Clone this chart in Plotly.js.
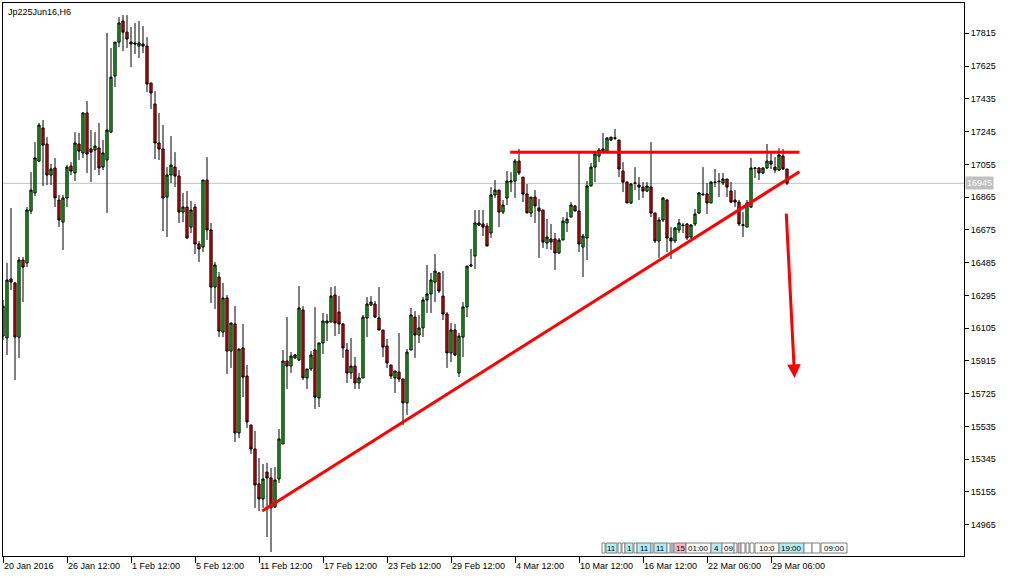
<!DOCTYPE html>
<html><head><meta charset="utf-8">
<script src="https://cdn.plot.ly/plotly-3.0.1.min.js"></script>
<style>html,body{margin:0;padding:0;background:#fff;}#chart{width:1010px;height:578px;}</style>
</head><body><div id="chart"></div>
<script>
// Jp225Jun16, H6 candles (bar number 0..196)
const openP = [
16059,16048,16390,16367,16053,16500,16483,16784,16889,17074,
17266,17173,16993,17034,16848,16720,16860,17045,17005,17173,
17121,17353,17144,17138,17150,17039,17080,17242,17567,17764,
17886,17822,17764,17759,17741,17753,17741,17527,17405,17179,
17144,16865,16993,17039,16987,16778,16807,16691,16807,16593,
16575,16964,16674,16343,16401,16082,16280,15972,16129,15497,
15990,15827,15543,15404,15201,15114,15270,15236,15067,15230,
15433,15914,15885,15932,15920,16210,15816,15868,15978,15700,
16019,16135,16140,16297,16198,16129,15978,15845,15885,15787,
15816,16164,16239,16245,16164,16094,16001,15891,15816,15850,
15810,15671,15978,16169,16065,16106,16268,16303,16372,16425,
16291,16187,15961,16094,15845,16053,16228,16465,16523,16703,
16709,16697,16657,16877,16906,16778,16860,16952,16958,17074,
16981,16883,16773,16865,16802,16790,16599,16622,16622,16541,
16616,16715,16749,16813,16784,16575,16628,16929,17039,17103,
17132,17132,17196,17210,17196,17016,16952,16831,16947,16935,
16923,16900,16923,16773,16610,16732,16848,16628,16610,16674,
16703,16709,16633,16709,16773,16883,16883,16831,16952,16958,
16947,16970,16900,16848,16836,16705,16691,16807,17034,17034,
17005,17034,17074,17039,17022,17103,17028];
const highP = [
16268,16483,16802,16372,16517,16517,16807,17010,17184,17295,
17312,17213,17057,17092,16877,16877,17051,17068,17242,17237,
17358,17422,17254,17242,17295,17196,17817,17730,17764,17909,
17921,17921,17851,17875,17886,17857,17793,17527,17480,17353,
17283,17039,17219,17126,17022,16889,16900,16842,16825,16610,
16964,17097,16715,16488,16430,16367,16297,16135,16233,15984,
16129,15891,15543,15508,15352,15317,15323,15294,15299,15520,
15978,16169,15966,15955,16349,16233,15868,15972,16227,16019,
16193,16187,16343,16349,16291,16135,16019,16048,15937,15845,
16181,16285,16291,16262,16343,16094,16042,15891,15856,16077,
15810,15984,16222,16204,16181,16285,16471,16425,16535,16430,
16436,16198,16135,16129,16077,16256,16465,16564,16790,16790,
16790,16715,16923,16964,16906,16848,17016,17010,17086,17144,
16981,16941,16865,16906,16854,16790,16738,16709,16657,16628,
16749,16778,16836,16819,17121,16651,16958,17063,17121,17150,
17237,17213,17213,17260,17196,17068,16958,16947,17039,16981,
16952,16952,17184,16773,16749,16865,16854,16691,16691,16738,
16715,16715,16709,16796,16894,17039,16947,16958,17028,17005,
17005,16970,16952,16906,16848,16778,16848,17092,17039,17039,
17039,17173,17126,17097,17150,17144,17028];
const lowP = [
16036,15949,16326,15804,15932,16256,16459,16767,16871,17068,
16929,16935,16935,16807,16691,16558,16807,16993,16958,17080,
17092,17005,16952,17022,16993,17022,16773,17237,17503,17735,
17712,17730,17619,17695,17672,17701,17474,17376,17086,17080,
16668,16633,16947,16923,16715,16720,16622,16657,16535,16488,
16546,16616,16251,16216,16053,16053,15839,15874,15444,15468,
15705,15526,15375,15062,15044,15062,14893,14806,15062,15207,
15433,15752,15845,15926,15914,15804,15752,15856,15636,15647,
15955,16030,16140,16059,16071,15932,15787,15810,15752,15752,
15816,16053,16233,16164,16094,15937,15874,15810,15729,15792,
15543,15601,15978,15932,16019,16053,16193,16193,16256,16309,
16152,15874,15908,15943,15821,15937,16169,16459,16448,16697,
16639,16581,16628,16860,16691,16767,16819,16894,16860,16993,
16836,16773,16749,16715,16512,16570,16564,16558,16442,16535,
16616,16662,16749,16784,16546,16401,16500,16929,16952,17068,
17126,17126,17190,17196,16981,16894,16831,16825,16906,16848,
16860,16894,16749,16599,16512,16720,16546,16506,16599,16657,
16657,16616,16622,16697,16767,16871,16767,16831,16923,16865,
16935,16865,16831,16807,16697,16633,16691,16802,16976,16964,
16999,17028,17028,17005,17016,17022,16935];
const closeP = [
16233,16384,16372,16053,16500,16459,16790,16906,17092,17283,
17167,16993,17028,16860,16732,16860,17039,17016,17179,17132,
17353,17115,17126,17161,17034,17121,17254,17561,17764,17875,
17822,17782,17753,17753,17759,17741,17521,17469,17179,17144,
16860,16993,17051,16987,16778,16807,16628,16790,16593,16564,
16964,16674,16343,16471,16088,16280,15972,16135,15497,15984,
15821,15560,15404,15195,15114,15230,15236,15062,15224,15462,
15914,15885,15943,15949,16222,15816,15868,15949,15705,16019,
16146,16146,16291,16135,16129,15990,15845,15885,15787,15816,
16169,16245,16256,16169,16094,15995,15903,15827,15856,15810,
15671,15966,16181,16065,16106,16268,16303,16384,16436,16320,
16187,15961,16094,15949,16059,16228,16465,16471,16715,16715,
16691,16581,16877,16906,16778,16819,16958,16958,17074,17005,
16883,16773,16865,16813,16784,16604,16633,16604,16541,16616,
16726,16738,16819,16784,16593,16639,16929,17039,17115,17138,
17144,17208,17213,17206,17028,16952,16831,16941,16945,16923,
16900,16929,16773,16610,16732,16860,16628,16610,16686,16715,
16700,16628,16703,16767,16889,16880,16831,16952,16950,16955,
16970,16923,16836,16836,16709,16700,16831,17034,17032,17005,
17034,17074,17057,17022,17109,17028,16945];

const dateTickBars = [0,16,32,48,64,80,96,112,128,144,160,176,192];
const dateTickLabels = ['20 Jan 2016','26 Jan 12:00','1 Feb 12:00','5 Feb 12:00','11 Feb 12:00','17 Feb 12:00','23 Feb 12:00','29 Feb 12:00','4 Mar 12:00','10 Mar 12:00','16 Mar 12:00','22 Mar 06:00','29 Mar 06:00'];
const priceTicks = [14965,15155,15345,15535,15725,15915,16105,16295,16485,16675,16865,17055,17245,17435,17625,17815];
const currentPrice = 16945;

// hand-drawn analysis objects (bar number, price)
const supportBars = [64.8, 199.1], supportPrices = [15044, 17012];
const resistBars = [126.8, 199.1], resistPrices = [17125, 17125];
const arrowBars = [195.8, 197.9], arrowPrices = [16778, 15816];

// calendar event strip (label, colour key)
const eventLabels = ['', '11', '', '', '1', '', '11', '', '11', '', '', '15', '01:00', '4', '09', '', '', '', '', '', '10:0', '19:00', '', '', '09:00'];
const eventKinds  = ['w','c','w','w','c','w','c','w','c','w','c','p','w','c','w','w','p','w','w','w','w','c','w','w','w'];
const eventPx = [[602,605],[606,617],[618,621],[622,625],[625,633],[634,637],[637,651],[651,653],[654,667],[667,670],[671,673],[674,686],[686,711],[711,722],[722,734],[734,737],[738,741],[741,745],[746,749],[750,754],[755,779],[779,804],[804,812],[812,820],[821,847]];

const bars = openP.map((_, i) => i);
const FONT = 'Liberation Sans, Arial, sans-serif';

const trace = {
  type: 'candlestick', x: bars, open: openP, high: highP, low: lowP, close: closeP,
  increasing: {line: {color: '#000000', width: 1}, fillcolor: '#10D010'},
  decreasing: {line: {color: '#000000', width: 1}, fillcolor: '#FF0000'},
  whiskerwidth: 0, hoverinfo: 'none', showlegend: false
};

const L = 3, T = 3, PW = 961, PH = 553;
const pxX = p => (p - L) / PW;
const pyY = p => (T + PH - p) / PH;

const shapes = [
  {type:'line', xref:'paper', yref:'y', x0:0, x1:1, y0:currentPrice, y1:currentPrice, line:{color:'#C0C0C0', width:1}, layer:'below'},
  {type:'line', xref:'x', yref:'y', x0:supportBars[0], y0:supportPrices[0], x1:supportBars[1], y1:supportPrices[1], line:{color:'#FF0000', width:3}, layer:'above'},
  {type:'line', xref:'x', yref:'y', x0:resistBars[0], y0:resistPrices[0], x1:resistBars[1], y1:resistPrices[1], line:{color:'#FF0000', width:3}, layer:'above'}
];
const annotations = [
  {xref:'paper', yref:'paper', x:pxX(6), y:1, xanchor:'left', yanchor:'top', yshift:-2, showarrow:false,
   text:'Jp225Jun16,H6', font:{family:FONT, size:9, color:'#000'}},
  {xref:'paper', yref:'y', x:1, y:currentPrice, xanchor:'left', yanchor:'middle', xshift:1, showarrow:false,
   text:String(currentPrice), bgcolor:'#C0C0C0', borderpad:1, font:{family:FONT, size:9, color:'#FFFFFF'}},
  {xref:'x', yref:'y', axref:'x', ayref:'y', x:arrowBars[1], y:arrowPrices[1], ax:arrowBars[0], ay:arrowPrices[0],
   showarrow:true, arrowhead:2, arrowsize:0.9, arrowwidth:3, arrowcolor:'#FF0000', text:'', standoff:0, startstandoff:0}
];
dateTickBars.forEach((b, i) => {
  annotations.push({xref:'x', yref:'paper', x:b, y:0, xanchor:'left', yanchor:'top', yshift:-3, xshift:-1,
    showarrow:false, text:dateTickLabels[i], font:{family:FONT, size:9, color:'#000'}});
});
const kindColor = {w:'#FFFFFF', c:'#B4ECF4', p:'#F6B8C0'};
eventPx.forEach((p, i) => {
  shapes.push({type:'rect', xref:'paper', yref:'paper', x0:pxX(p[0]), x1:pxX(p[1]), y0:pyY(553), y1:pyY(543),
    fillcolor:kindColor[eventKinds[i]], line:{color:'#808080', width:1}, layer:'above'});
  if (eventLabels[i]) annotations.push({xref:'paper', yref:'paper', x:pxX((p[0]+p[1])/2), y:pyY(548),
    xanchor:'center', yanchor:'middle', showarrow:false, text:eventLabels[i], font:{family:FONT, size:8, color:'#000'}});
});

const layout = {
  width:1010, height:578, margin:{l:L, r:1010-L-PW, t:T, b:578-T-PH},
  paper_bgcolor:'#FFFFFF', plot_bgcolor:'#FFFFFF', showlegend:false, boxgap:0.2,
  xaxis:{type:'linear', range:[0, 240.25], rangeslider:{visible:false}, tickvals:dateTickBars,
    showticklabels:false, ticks:'outside', ticklen:6, tickcolor:'#000', tickwidth:1,
    showgrid:false, zeroline:false, showline:true, linecolor:'#000', linewidth:1, mirror:true, fixedrange:true},
  yaxis:{range:[14783, 17991], side:'right', tickvals:priceTicks, tickformat:'d', ticks:'outside', ticklen:4, tickcolor:'#000',
    tickfont:{family:FONT, size:9, color:'#000'}, showgrid:false, zeroline:false, showline:true,
    linecolor:'#000', linewidth:1, mirror:true, fixedrange:true},
  shapes:shapes, annotations:annotations
};
Plotly.newPlot('chart', [trace], layout, {staticPlot:true, displayModeBar:false});
</script></body></html>
